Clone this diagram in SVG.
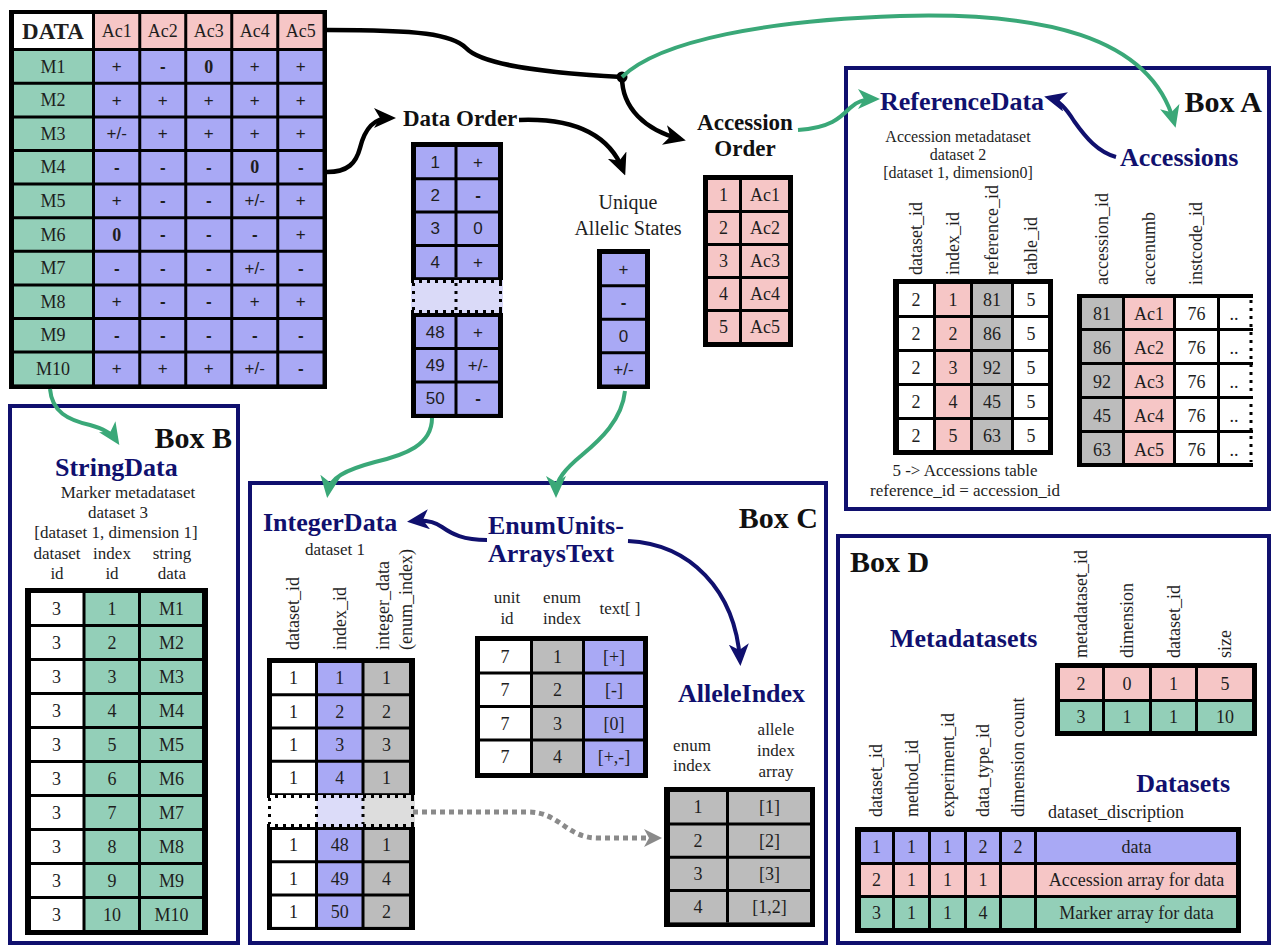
<svg xmlns="http://www.w3.org/2000/svg" width="1274" height="949" viewBox="0 0 1274 949">
<style>
.ts{font-family:"Liberation Serif","Times New Roman",serif;font-size:18px;fill:#1e1e1e;text-anchor:middle;dominant-baseline:central}
.ta{font-family:"Liberation Sans",Arial,sans-serif;font-size:17px;fill:#1e1e1e;text-anchor:middle;dominant-baseline:central}
.bd{font-weight:bold}
.lab{font-family:"Liberation Serif","Times New Roman",serif;font-size:17px;fill:#1e1e1e;text-anchor:middle}
.rh{font-family:"Liberation Serif","Times New Roman",serif;font-size:18px;fill:#1e1e1e}
.nv{font-family:"Liberation Serif","Times New Roman",serif;font-size:26px;font-weight:bold;fill:#10106e}
.bx{font-family:"Liberation Serif","Times New Roman",serif;font-size:30px;font-weight:bold;fill:#111}
.hd{font-family:"Liberation Serif","Times New Roman",serif;font-size:23px;font-weight:bold;fill:#111}
.box{fill:#fff;stroke:#10106e;stroke-width:4}
.k{fill:#000}.w{fill:#fff}.p{fill:#f6c6c6}.v{fill:#a9a9f5}.g{fill:#93cfb8}.y{fill:#bcbcbc}
.sep{stroke:#000;stroke-width:3;fill:none}
.cg{fill:none;stroke:#3aa878;stroke-width:4}
.ck{fill:none;stroke:#000;stroke-width:4.5}
.cn{fill:none;stroke:#10106e;stroke-width:4}
.cd{fill:none;stroke:#8a8a8a;stroke-width:5;stroke-dasharray:5 4}
.dot{fill:none;stroke:#000;stroke-width:3;stroke-dasharray:3 5}
</style>
<defs>
<marker id="mk" markerUnits="userSpaceOnUse" markerWidth="22" markerHeight="20" refX="16" refY="10" orient="auto"><path d="M0,0 L22,10 L0,20 L6,10 z" fill="#000"/></marker>
<marker id="mg" markerUnits="userSpaceOnUse" markerWidth="22" markerHeight="20" refX="16" refY="10" orient="auto"><path d="M0,0 L22,10 L0,20 L6,10 z" fill="#3aa878"/></marker>
<marker id="mn" markerUnits="userSpaceOnUse" markerWidth="22" markerHeight="20" refX="16" refY="10" orient="auto"><path d="M0,0 L22,10 L0,20 L6,10 z" fill="#10106e"/></marker>
<marker id="md" markerUnits="userSpaceOnUse" markerWidth="18" markerHeight="18" refX="12" refY="9" orient="auto"><path d="M0,0 L18,9 L0,18 L5,9 z" fill="#8a8a8a"/></marker>
</defs>
<rect width="1274" height="949" fill="#fff"/>

<!-- Boxes -->
<g id="boxA"><rect class="box" x="846" y="68" width="423" height="441"/></g>
<g id="boxB"><rect class="box" x="10" y="406" width="228" height="537"/></g>
<g id="boxC"><rect class="box" x="250" y="483" width="576" height="460"/></g>
<g id="boxD"><rect class="box" x="838" y="536" width="431" height="407"/></g>

<!-- DATA table -->
<g id="data-table">
<rect class="k" x="9" y="10" width="318" height="379"/>
<rect class="w" x="14" y="14" width="78" height="34"/>
<rect class="p" x="95" y="14" width="227.5" height="34"/>
<rect class="g" x="14" y="51" width="78" height="333.4"/>
<rect class="v" x="95" y="51" width="227.5" height="333.4"/>
<path class="sep" d="M139.75,14V385M185.75,14V385M231.75,14V385M277.75,14V385M14,83.3H323M14,116.9H323M14,150.5H323M14,184.1H323M14,217.7H323M14,251.3H323M14,284.9H323M14,318.5H323M14,352.1H323"/>
<text class="ts bd" x="53" y="31" style="font-size:23px">DATA</text>
<text class="ts" x="116.75" y="31">Ac1</text><text class="ts" x="162.75" y="31">Ac2</text><text class="ts" x="208.75" y="31">Ac3</text><text class="ts" x="254.75" y="31">Ac4</text><text class="ts" x="300.75" y="31">Ac5</text>
<text class="ts" x="53" y="66.5">M1</text><text class="ts" x="53" y="100.1">M2</text><text class="ts" x="53" y="133.7">M3</text><text class="ts" x="53" y="167.3">M4</text><text class="ts" x="53" y="200.9">M5</text><text class="ts" x="53" y="234.5">M6</text><text class="ts" x="53" y="268.1">M7</text><text class="ts" x="53" y="301.7">M8</text><text class="ts" x="53" y="335.3">M9</text><text class="ts" x="53" y="368.9">M10</text>
<text class="ta" x="116.75" y="66.5">+</text><text class="ta bd" x="162.75" y="66.5">-</text><text class="ts bd" x="208.75" y="66.5">0</text><text class="ta" x="254.75" y="66.5">+</text><text class="ta" x="300.75" y="66.5">+</text>
<text class="ta" x="116.75" y="100.1">+</text><text class="ta" x="162.75" y="100.1">+</text><text class="ta" x="208.75" y="100.1">+</text><text class="ta" x="254.75" y="100.1">+</text><text class="ta" x="300.75" y="100.1">+</text>
<text class="ta" x="116.75" y="133.7">+/-</text><text class="ta" x="162.75" y="133.7">+</text><text class="ta" x="208.75" y="133.7">+</text><text class="ta" x="254.75" y="133.7">+</text><text class="ta" x="300.75" y="133.7">+</text>
<text class="ta bd" x="116.75" y="167.3">-</text><text class="ta bd" x="162.75" y="167.3">-</text><text class="ta bd" x="208.75" y="167.3">-</text><text class="ts bd" x="254.75" y="167.3">0</text><text class="ta bd" x="300.75" y="167.3">-</text>
<text class="ta" x="116.75" y="200.9">+</text><text class="ta bd" x="162.75" y="200.9">-</text><text class="ta bd" x="208.75" y="200.9">-</text><text class="ta" x="254.75" y="200.9">+/-</text><text class="ta" x="300.75" y="200.9">+</text>
<text class="ts bd" x="116.75" y="234.5">0</text><text class="ta bd" x="162.75" y="234.5">-</text><text class="ta bd" x="208.75" y="234.5">-</text><text class="ta bd" x="254.75" y="234.5">-</text><text class="ta" x="300.75" y="234.5">+</text>
<text class="ta bd" x="116.75" y="268.1">-</text><text class="ta bd" x="162.75" y="268.1">-</text><text class="ta bd" x="208.75" y="268.1">-</text><text class="ta" x="254.75" y="268.1">+/-</text><text class="ta bd" x="300.75" y="268.1">-</text>
<text class="ta" x="116.75" y="301.7">+</text><text class="ta bd" x="162.75" y="301.7">-</text><text class="ta bd" x="208.75" y="301.7">-</text><text class="ta" x="254.75" y="301.7">+</text><text class="ta" x="300.75" y="301.7">+</text>
<text class="ta bd" x="116.75" y="335.3">-</text><text class="ta bd" x="162.75" y="335.3">-</text><text class="ta bd" x="208.75" y="335.3">-</text><text class="ta bd" x="254.75" y="335.3">-</text><text class="ta bd" x="300.75" y="335.3">-</text>
<text class="ta" x="116.75" y="368.9">+</text><text class="ta" x="162.75" y="368.9">+</text><text class="ta" x="208.75" y="368.9">+</text><text class="ta" x="254.75" y="368.9">+/-</text><text class="ta bd" x="300.75" y="368.9">-</text>
</g>

<!-- Data Order -->
<g id="data-order">
<text class="hd" x="403" y="126">Data Order</text>
<rect class="k" x="411" y="142" width="92" height="138"/>
<rect class="k" x="411" y="313" width="92" height="105"/>
<rect class="v" x="416" y="147" width="82" height="130.2"/>
<rect class="v" x="416" y="317" width="82" height="96.9"/>
<rect fill="#dadaf8" x="411" y="280" width="92" height="33"/>
<path class="sep" d="M456,147V277.2M456,317V414M416,178.8H498M416,212.1H498M416,245.4H498M416,348.6H498M416,381.9H498"/>
<path class="dot" d="M411,281.5H503M411,311.5H503M413.5,283V310M456,283V310M500.5,283V310"/>
<text class="ta" x="435.25" y="162.2">1</text><text class="ta" x="478" y="162.2">+</text>
<text class="ta" x="435.25" y="195.5">2</text><text class="ta bd" x="478" y="195.5">-</text>
<text class="ta" x="435.25" y="228.8">3</text><text class="ta" x="478" y="228.8">0</text>
<text class="ta" x="435.25" y="262.1">4</text><text class="ta" x="478" y="262.1">+</text>
<text class="ta" x="435.25" y="332.2">48</text><text class="ta" x="478" y="332.2">+</text>
<text class="ta" x="435.25" y="365.5">49</text><text class="ta" x="478" y="365.5">+/-</text>
<text class="ta" x="435.25" y="398.8">50</text><text class="ta bd" x="478" y="398.8">-</text>
</g>

<!-- Unique Allelic States -->
<g id="unique-states">
<text class="lab" x="628" y="209" style="font-size:20px">Unique</text>
<text class="lab" x="628" y="235" style="font-size:20px">Allelic States</text>
<rect class="k" x="597" y="249" width="53" height="140"/>
<rect class="v" x="602" y="254" width="43" height="130.5"/>
<path class="sep" d="M602,285.75H645M602,319.25H645M602,352.75H645"/>
<text class="ta" x="623.5" y="269.25">+</text><text class="ta bd" x="623.5" y="302.75">-</text><text class="ta" x="623.5" y="336.25">0</text><text class="ta" x="623.5" y="369.75">+/-</text>
</g>

<!-- Accession Order -->
<g id="accession-order">
<text class="hd" x="745" y="130" text-anchor="middle">Accession</text>
<text class="hd" x="745" y="156" text-anchor="middle">Order</text>
<rect class="k" x="703" y="175" width="90" height="172"/>
<rect class="p" x="708" y="180" width="80" height="162"/>
<path class="sep" d="M740.5,180V342M708,211.5H788M708,244.5H788M708,277.5H788M708,310.5H788"/>
<text class="ts" x="723.5" y="195">1</text><text class="ts" x="765" y="195">Ac1</text>
<text class="ts" x="723.5" y="228">2</text><text class="ts" x="765" y="228">Ac2</text>
<text class="ts" x="723.5" y="261">3</text><text class="ts" x="765" y="261">Ac3</text>
<text class="ts" x="723.5" y="294">4</text><text class="ts" x="765" y="294">Ac4</text>
<text class="ts" x="723.5" y="327">5</text><text class="ts" x="765" y="327">Ac5</text>
</g>

<!-- Box A content -->
<g id="reference-data">
<text class="bx" x="1262" y="112" text-anchor="end">Box A</text>
<text class="nv" x="880" y="110">ReferenceData</text>
<text class="lab" x="958" y="142" style="font-size:16px">Accession metadataset</text>
<text class="lab" x="958" y="160" style="font-size:16px">dataset 2</text>
<text class="lab" x="958" y="178" style="font-size:16px">[dataset 1, dimension0]</text>
<text class="rh" transform="translate(922,275) rotate(-90)">dataset_id</text>
<text class="rh" transform="translate(959,275) rotate(-90)">index_id</text>
<text class="rh" transform="translate(998,275) rotate(-90)">reference_id</text>
<text class="rh" transform="translate(1037,275) rotate(-90)">table_id</text>
<rect class="k" x="893" y="279" width="160" height="176"/>
<rect class="w" x="899" y="284" width="35" height="166"/>
<rect class="p" x="935" y="284" width="36" height="166"/>
<rect class="y" x="972" y="284" width="40" height="166"/>
<rect class="w" x="1013" y="284" width="35" height="166"/>
<path class="sep" d="M934.5,284V450M971.5,284V450M1012.5,284V450M899,316.5H1048M899,350.5H1048M899,384.5H1048M899,418.5H1048"/>
<text class="ts" x="916" y="299.5">2</text><text class="ts" x="953" y="299.5">1</text><text class="ts" x="992" y="299.5">81</text><text class="ts" x="1031" y="299.5">5</text>
<text class="ts" x="916" y="333.5">2</text><text class="ts" x="953" y="333.5">2</text><text class="ts" x="992" y="333.5">86</text><text class="ts" x="1031" y="333.5">5</text>
<text class="ts" x="916" y="367.5">2</text><text class="ts" x="953" y="367.5">3</text><text class="ts" x="992" y="367.5">92</text><text class="ts" x="1031" y="367.5">5</text>
<text class="ts" x="916" y="401.5">2</text><text class="ts" x="953" y="401.5">4</text><text class="ts" x="992" y="401.5">45</text><text class="ts" x="1031" y="401.5">5</text>
<text class="ts" x="916" y="435.5">2</text><text class="ts" x="953" y="435.5">5</text><text class="ts" x="992" y="435.5">63</text><text class="ts" x="1031" y="435.5">5</text>
<text class="lab" x="965" y="476">5 -&gt; Accessions table</text>
<text class="lab" x="965" y="496">reference_id = accession_id</text>
</g>

<g id="accessions">
<text class="nv" x="1120" y="166">Accessions</text>
<text class="rh" transform="translate(1108,285) rotate(-90)">accession_id</text>
<text class="rh" transform="translate(1155,285) rotate(-90)">accenumb</text>
<text class="rh" transform="translate(1202,285) rotate(-90)">instcode_id</text>
<rect class="k" x="1077" y="294" width="176" height="173"/>
<rect class="y" x="1082" y="298" width="41" height="165"/>
<rect class="p" x="1124" y="298" width="50" height="165"/>
<rect class="w" x="1175" y="298" width="43" height="165"/>
<rect class="w" x="1219" y="298" width="36" height="165"/>
<path class="sep" d="M1123.5,298V463M1174.5,298V463M1218.5,298V463M1082,329.5H1253M1082,363.5H1253M1082,397.5H1253M1082,431.5H1253"/>
<path class="dot" d="M1251,300V462"/>
<text class="ts" x="1102" y="313.5">81</text><text class="ts" x="1149" y="313.5">Ac1</text><text class="ts" x="1196.5" y="313.5">76</text><text class="ts" x="1234" y="313.5">..</text>
<text class="ts" x="1102" y="347.5">86</text><text class="ts" x="1149" y="347.5">Ac2</text><text class="ts" x="1196.5" y="347.5">76</text><text class="ts" x="1234" y="347.5">..</text>
<text class="ts" x="1102" y="381.5">92</text><text class="ts" x="1149" y="381.5">Ac3</text><text class="ts" x="1196.5" y="381.5">76</text><text class="ts" x="1234" y="381.5">..</text>
<text class="ts" x="1102" y="415.5">45</text><text class="ts" x="1149" y="415.5">Ac4</text><text class="ts" x="1196.5" y="415.5">76</text><text class="ts" x="1234" y="415.5">..</text>
<text class="ts" x="1102" y="449.5">63</text><text class="ts" x="1149" y="449.5">Ac5</text><text class="ts" x="1196.5" y="449.5">76</text><text class="ts" x="1234" y="449.5">..</text>
</g>

<!-- Box B content -->
<g id="string-data">
<text class="bx" x="232" y="448" text-anchor="end">Box B</text>
<text class="nv" x="55" y="476">StringData</text>
<text class="lab" x="128" y="498">Marker metadataset</text>
<text class="lab" x="118" y="518">dataset 3</text>
<text class="lab" x="116" y="538">[dataset 1, dimension 1]</text>
<text class="lab" x="57" y="559">dataset</text><text class="lab" x="112" y="559">index</text><text class="lab" x="172" y="559">string</text>
<text class="lab" x="57" y="579">id</text><text class="lab" x="112" y="579">id</text><text class="lab" x="172" y="579">data</text>
<rect class="k" x="25" y="588" width="183" height="347"/>
<rect class="w" x="31" y="593" width="52" height="337"/>
<rect class="g" x="85" y="593" width="117" height="337"/>
<path class="sep" d="M84,593V930M139.5,593V930M31,625.5H202M31,659.5H202M31,693.5H202M31,727.5H202M31,761.5H202M31,795.5H202M31,829.5H202M31,863.5H202M31,897.5H202"/>
<text class="ts" x="56.5" y="608.5">3</text><text class="ts" x="112" y="608.5">1</text><text class="ts" x="171.5" y="608.5">M1</text>
<text class="ts" x="56.5" y="642.5">3</text><text class="ts" x="112" y="642.5">2</text><text class="ts" x="171.5" y="642.5">M2</text>
<text class="ts" x="56.5" y="676.5">3</text><text class="ts" x="112" y="676.5">3</text><text class="ts" x="171.5" y="676.5">M3</text>
<text class="ts" x="56.5" y="710.5">3</text><text class="ts" x="112" y="710.5">4</text><text class="ts" x="171.5" y="710.5">M4</text>
<text class="ts" x="56.5" y="744.5">3</text><text class="ts" x="112" y="744.5">5</text><text class="ts" x="171.5" y="744.5">M5</text>
<text class="ts" x="56.5" y="778.5">3</text><text class="ts" x="112" y="778.5">6</text><text class="ts" x="171.5" y="778.5">M6</text>
<text class="ts" x="56.5" y="812.5">3</text><text class="ts" x="112" y="812.5">7</text><text class="ts" x="171.5" y="812.5">M7</text>
<text class="ts" x="56.5" y="846.5">3</text><text class="ts" x="112" y="846.5">8</text><text class="ts" x="171.5" y="846.5">M8</text>
<text class="ts" x="56.5" y="880.5">3</text><text class="ts" x="112" y="880.5">9</text><text class="ts" x="171.5" y="880.5">M9</text>
<text class="ts" x="56.5" y="914.5">3</text><text class="ts" x="112" y="914.5">10</text><text class="ts" x="171.5" y="914.5">M10</text>
</g>

<!-- Box C content -->
<g id="integer-data">
<text class="bx" x="818" y="528" text-anchor="end">Box C</text>
<text class="nv" x="263" y="531">IntegerData</text>
<text class="lab" x="335" y="555">dataset 1</text>
<text class="rh" transform="translate(299,650) rotate(-90)">dataset_id</text>
<text class="rh" transform="translate(346,650) rotate(-90)">index_id</text>
<text class="rh" transform="translate(389,650) rotate(-90)">integer_data</text>
<text class="rh" transform="translate(412,650) rotate(-90)">(enum_index)</text>
<rect class="k" x="267" y="658" width="148" height="137"/>
<rect class="k" x="267" y="827" width="148" height="103"/>
<rect class="w" x="272" y="663" width="44" height="130.2"/>
<rect class="v" x="317" y="663" width="45.5" height="130.2"/>
<rect class="y" x="364" y="663" width="45" height="130.2"/>
<rect class="w" x="272" y="830" width="44" height="96.9"/>
<rect class="v" x="317" y="830" width="45.5" height="96.9"/>
<rect class="y" x="364" y="830" width="45" height="96.9"/>
<rect fill="#fff" x="267" y="795" width="49.5" height="32"/>
<rect fill="#dcdcf9" x="316.5" y="795" width="46.5" height="32"/>
<rect fill="#dddddd" x="363" y="795" width="52" height="32"/>
<path class="sep" d="M316.5,663V793.2M363,663V793.2M316.5,830V927M363,830V927M272,694.65H409M272,727.95H409M272,761.25H409M272,861.65H409M272,894.95H409"/>
<path class="dot" d="M267,796.5H415M267,825.5H415M269.5,798V824M316.5,798V824M363,798V824M412.5,798V824"/>
<text class="ts" x="293.5" y="678.2">1</text><text class="ts" x="339.75" y="678.2">1</text><text class="ts" x="386.5" y="678.2">1</text>
<text class="ts" x="293.5" y="711.5">1</text><text class="ts" x="339.75" y="711.5">2</text><text class="ts" x="386.5" y="711.5">2</text>
<text class="ts" x="293.5" y="744.8">1</text><text class="ts" x="339.75" y="744.8">3</text><text class="ts" x="386.5" y="744.8">3</text>
<text class="ts" x="293.5" y="778.1">1</text><text class="ts" x="339.75" y="778.1">4</text><text class="ts" x="386.5" y="778.1">1</text>
<text class="ts" x="293.5" y="845.2">1</text><text class="ts" x="339.75" y="845.2">48</text><text class="ts" x="386.5" y="845.2">1</text>
<text class="ts" x="293.5" y="878.5">1</text><text class="ts" x="339.75" y="878.5">49</text><text class="ts" x="386.5" y="878.5">4</text>
<text class="ts" x="293.5" y="911.8">1</text><text class="ts" x="339.75" y="911.8">50</text><text class="ts" x="386.5" y="911.8">2</text>
</g>

<g id="enum-units">
<text class="nv" x="488" y="534">EnumUnits-</text>
<text class="nv" x="488" y="562">ArraysText</text>
<text class="lab" x="507" y="603">unit</text><text class="lab" x="507" y="624">id</text>
<text class="lab" x="562" y="603">enum</text><text class="lab" x="562" y="624">index</text>
<text class="lab" x="620" y="614">text[ ]</text>
<rect class="k" x="475" y="636" width="173" height="142"/>
<rect class="w" x="480" y="641" width="51" height="132"/>
<rect class="y" x="532" y="641" width="51" height="132"/>
<rect class="v" x="584" y="641" width="59" height="132"/>
<path class="sep" d="M531.5,641V773M583.5,641V773M480,673H643M480,706.5H643M480,740H643"/>
<text class="ts" x="505" y="656.5">7</text><text class="ts" x="557.5" y="656.5">1</text><text class="ts" x="614" y="656.5">[+]</text>
<text class="ts" x="505" y="690">7</text><text class="ts" x="557.5" y="690">2</text><text class="ts" x="614" y="690">[-]</text>
<text class="ts" x="505" y="723.5">7</text><text class="ts" x="557.5" y="723.5">3</text><text class="ts" x="614" y="723.5">[0]</text>
<text class="ts" x="505" y="757">7</text><text class="ts" x="557.5" y="757">4</text><text class="ts" x="614" y="757">[+,-]</text>
</g>

<g id="allele-index">
<text class="nv" x="678" y="702">AlleleIndex</text>
<text class="lab" x="776" y="735">allele</text><text class="lab" x="776" y="756">index</text><text class="lab" x="776" y="777">array</text>
<text class="lab" x="692" y="751">enum</text><text class="lab" x="692" y="771">index</text>
<rect class="k" x="664" y="787" width="151" height="140"/>
<rect class="y" x="670" y="792" width="140" height="130.4"/>
<path class="sep" d="M727.5,792V922.4M670,823.9H810M670,857.2H810M670,890.5H810"/>
<text class="ts" x="698" y="807.25">1</text><text class="ts" x="769.5" y="807.25">[1]</text>
<text class="ts" x="698" y="840.55">2</text><text class="ts" x="769.5" y="840.55">[2]</text>
<text class="ts" x="698" y="873.85">3</text><text class="ts" x="769.5" y="873.85">[3]</text>
<text class="ts" x="698" y="907.15">4</text><text class="ts" x="769.5" y="907.15">[1,2]</text>
</g>

<!-- Box D content -->
<g id="metadatasets">
<text class="bx" x="850" y="572">Box D</text>
<text class="nv" x="890" y="647">Metadatasets</text>
<text class="rh" transform="translate(1087,658) rotate(-90)">metadataset_id</text>
<text class="rh" transform="translate(1133,658) rotate(-90)">dimension</text>
<text class="rh" transform="translate(1180,658) rotate(-90)">dataset_id</text>
<text class="rh" transform="translate(1231,658) rotate(-90)">size</text>
<rect class="k" x="1055" y="663" width="202" height="73"/>
<rect class="p" x="1060" y="668" width="192" height="31"/>
<rect class="g" x="1060" y="702" width="192" height="29"/>
<path class="sep" d="M1103.5,668V731M1150.5,668V731M1196.5,668V731"/>
<text class="ts" x="1081" y="683.5">2</text><text class="ts" x="1127" y="683.5">0</text><text class="ts" x="1173.5" y="683.5">1</text><text class="ts" x="1225" y="683.5">5</text>
<text class="ts" x="1081" y="716.5">3</text><text class="ts" x="1127" y="716.5">1</text><text class="ts" x="1173.5" y="716.5">1</text><text class="ts" x="1225" y="716.5">10</text>
</g>

<g id="datasets">
<text class="nv" x="1230" y="792" text-anchor="end">Datasets</text>
<text class="rh" x="1048" y="818">dataset_discription</text>
<text class="rh" transform="translate(882,817) rotate(-90)">dataset_id</text>
<text class="rh" transform="translate(918,817) rotate(-90)">method_id</text>
<text class="rh" transform="translate(954,817) rotate(-90)">experiment_id</text>
<text class="rh" transform="translate(989,817) rotate(-90)">data_type_id</text>
<text class="rh" transform="translate(1024,817) rotate(-90)">dimension count</text>
<rect class="k" x="855" y="827" width="386" height="106"/>
<rect class="v" x="861" y="832" width="375" height="30"/>
<rect class="p" x="861" y="865" width="375" height="30"/>
<rect class="g" x="861" y="898" width="375" height="30"/>
<path class="sep" d="M893.5,832V928M929.5,832V928M965.5,832V928M1000.5,832V928M1035.5,832V928"/>
<text class="ts" x="876.5" y="847">1</text><text class="ts" x="911.5" y="847">1</text><text class="ts" x="947.5" y="847">1</text><text class="ts" x="983" y="847">2</text><text class="ts" x="1018" y="847">2</text><text class="ts" x="1136.5" y="847">data</text>
<text class="ts" x="876.5" y="880">2</text><text class="ts" x="911.5" y="880">1</text><text class="ts" x="947.5" y="880">1</text><text class="ts" x="983" y="880">1</text><text class="ts" x="1136.5" y="880">Accession array for data</text>
<text class="ts" x="876.5" y="913">3</text><text class="ts" x="911.5" y="913">1</text><text class="ts" x="947.5" y="913">1</text><text class="ts" x="983" y="913">4</text><text class="ts" x="1136.5" y="913">Marker array for data</text>
</g>

<!-- Connectors -->
<g id="connectors">
<path class="ck" d="M327,30 C420,30 452,34 466,48 C480,63 530,72 622,77"/>
<circle cx="622" cy="77" r="5.5" fill="#000"/>
<path class="ck" d="M622,77 C622,108 645,130 680,139" marker-end="url(#mk)"/>
<path class="ck" d="M327,172 C348,172 356,163 360,148 C365,128 374,118 390,118" marker-end="url(#mk)"/>
<path class="ck" d="M519,120 C570,118 608,132 623,170" marker-end="url(#mk)"/>
<path class="cg" d="M622,77 C660,40 770,20 900,16 C1040,12 1150,35 1174,122" marker-end="url(#mg)"/>
<path class="cg" d="M798,130 C830,128 840,118 850,108 C858,100 866,99 874,99" marker-end="url(#mg)"/>
<path class="cg" d="M50,389 C52,412 68,420 90,425 C105,429 112,434 116,440" marker-end="url(#mg)"/>
<path class="cg" d="M432,418 C432,445 405,455 375,462 C345,470 330,478 328,492" marker-end="url(#mg)"/>
<path class="cg" d="M625,391 C622,420 600,440 582,455 C565,469 556,480 556,492" marker-end="url(#mg)"/>
<path class="cn" d="M1116,157 C1098,152 1086,138 1074,121 C1066,108 1058,100 1050,98" marker-end="url(#mn)"/>
<path class="cn" d="M487,540 C463,540 452,534 442,527 C432,520 422,520 413,521" marker-end="url(#mn)"/>
<path class="cn" d="M628,541 C690,544 735,590 740,660" marker-end="url(#mn)"/>
<path class="cd" d="M413,812 L528,812 C560,812 566,838 598,838 L656,838" marker-end="url(#md)"/>
</g>
</svg>
